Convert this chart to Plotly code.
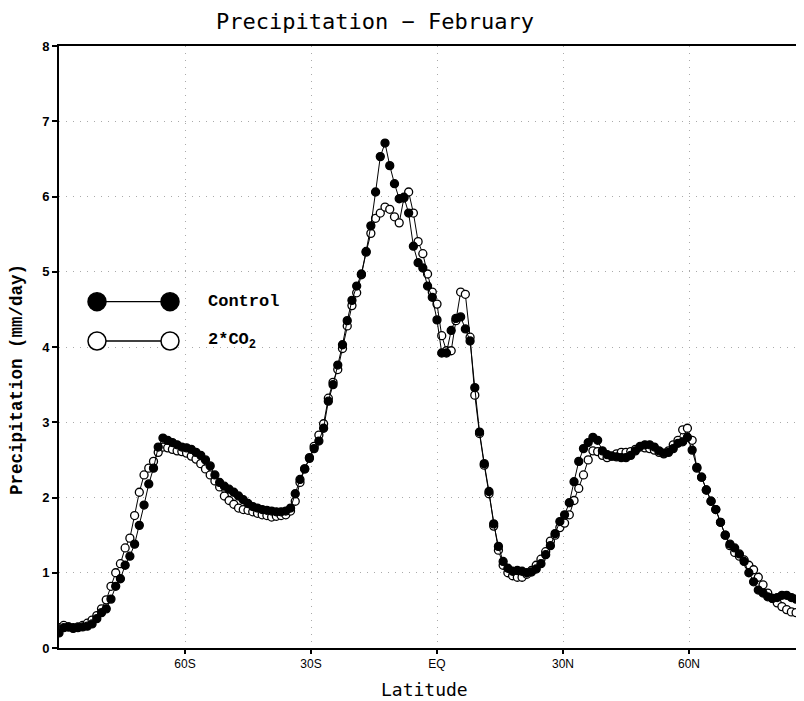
import plotly.graph_objects as go

# Latitude grid: 161 points, 1.125 deg spacing, -90 .. 90
lat_start = -90.0
lat_step = 1.125
n_points = 161
latitudes = [lat_start + lat_step * i for i in range(n_points)]

control = [
    0.20, 0.27, 0.28, 0.26, 0.27, 0.28, 0.29, 0.32, 0.39, 0.47,
    0.52, 0.65, 0.82, 0.92, 1.10, 1.22, 1.38, 1.63, 1.90, 2.18,
    2.39, 2.67, 2.79, 2.76, 2.73, 2.70, 2.67, 2.66, 2.64, 2.60,
    2.56, 2.50, 2.42, 2.30, 2.20, 2.15, 2.11, 2.07, 2.02, 1.97,
    1.92, 1.88, 1.86, 1.84, 1.83, 1.82, 1.81, 1.81, 1.82, 1.86,
    2.05, 2.24, 2.38, 2.52, 2.65, 2.75, 2.92, 3.28, 3.50, 3.76,
    4.03, 4.35, 4.62, 4.81, 4.97, 5.27, 5.61, 6.06, 6.53, 6.71,
    6.41, 6.17, 5.97, 5.99, 5.78, 5.34, 5.12, 5.05, 4.81, 4.66,
    4.36, 3.92, 3.92, 4.22, 4.38, 4.40, 4.24, 4.08, 3.46, 2.87,
    2.45, 2.08, 1.65, 1.35, 1.15, 1.06, 1.02, 1.03, 1.02, 1.00,
    1.01, 1.05, 1.12, 1.24, 1.36, 1.52, 1.68, 1.77, 1.93, 2.21,
    2.48, 2.65, 2.73, 2.80, 2.76, 2.62, 2.57, 2.55, 2.54, 2.53,
    2.53, 2.56, 2.62, 2.68, 2.70, 2.70, 2.67, 2.62, 2.59, 2.60,
    2.65, 2.72, 2.74, 2.80, 2.63, 2.40, 2.27, 2.10, 1.95, 1.84,
    1.67, 1.50, 1.38, 1.33, 1.25, 1.15, 1.00, 0.88, 0.77, 0.73,
    0.68, 0.66, 0.67, 0.70, 0.70, 0.67, 0.65, 0.62, 0.60, 0.58,
    0.57,
]

co2x2 = [
    0.27, 0.30, 0.28, 0.27, 0.28, 0.30, 0.33, 0.37, 0.43, 0.52,
    0.64, 0.82, 1.00, 1.12, 1.33, 1.46, 1.76, 2.07, 2.30, 2.39,
    2.48, 2.60, 2.67, 2.66, 2.64, 2.62, 2.61, 2.59, 2.55, 2.51,
    2.45, 2.38, 2.30, 2.22, 2.14, 2.02, 1.96, 1.91, 1.86, 1.84,
    1.83, 1.81, 1.79, 1.77, 1.76, 1.74, 1.75, 1.76, 1.77, 1.82,
    1.95, 2.20, 2.38, 2.53, 2.68, 2.83, 2.98, 3.32, 3.53, 3.70,
    3.98, 4.28, 4.55, 4.72, 4.96, 5.26, 5.51, 5.71, 5.78, 5.86,
    5.83, 5.73, 5.65, 5.98, 6.06, 5.78, 5.40, 5.24, 4.97, 4.73,
    4.57, 4.15, 3.95, 3.95, 4.35, 4.73, 4.70, 4.13, 3.36, 2.85,
    2.43, 2.05, 1.62, 1.30, 1.10, 1.00, 0.96, 0.94, 0.94, 0.98,
    1.03, 1.10, 1.18, 1.28, 1.42, 1.50, 1.60, 1.66, 1.77, 1.96,
    2.12, 2.30, 2.50, 2.62, 2.61, 2.56, 2.53, 2.55, 2.58, 2.60,
    2.60, 2.61, 2.64, 2.67, 2.66, 2.65, 2.63, 2.60, 2.58, 2.62,
    2.70, 2.76, 2.90, 2.92, 2.76, 2.39, 2.27, 2.10, 1.95, 1.84,
    1.67, 1.50, 1.36, 1.27, 1.22, 1.17, 1.10, 1.04, 0.94, 0.84,
    0.73, 0.66, 0.60, 0.55, 0.51, 0.48, 0.47, 0.47, 0.46, 0.46,
    0.45,
]

x_tick_vals = [-60, -30, 0, 30, 60]
x_tick_text = ["60S", "30S", "EQ", "30N", "60N"]
y_tick_vals = [0, 1, 2, 3, 4, 5, 6, 7, 8]

# page body has an 8px margin; figure is sized to fill the rest of the window
OFF = 8
W, H = 804 - OFF, 701 - OFF
ML, MT = 59 - OFF, 46 - OFF
MB = H - (648 - OFF)
MR = 0
PW, PH = W - ML - MR, H - MT - MB
PX_PER_DEG = 4.2


def px(xr):
    # reference-window pixel x -> paper coordinate
    return (xr - OFF - ML) / PW


def py(yr):
    # reference-window pixel y -> paper coordinate
    return (H - MB - (yr - OFF)) / PH


fig = go.Figure()

fig.add_trace(go.Scatter(
    x=latitudes, y=co2x2, mode="lines+markers", name="2*CO2",
    line=dict(color="black", width=1),
    marker=dict(symbol="circle", size=8, color="white",
                line=dict(color="black", width=1.3)),
    showlegend=False,
))
fig.add_trace(go.Scatter(
    x=latitudes, y=control, mode="lines+markers", name="Control",
    line=dict(color="black", width=1),
    marker=dict(symbol="circle", size=8, color="black",
                line=dict(color="black", width=1.3)),
    showlegend=False,
))

shapes = []
annotations = []

# custom legend
for yy, fill in [(301.7, "black"), (341.0, "white")]:
    shapes.append(dict(type="line", xref="paper", yref="paper",
                       x0=px(97), x1=px(170), y0=py(yy), y1=py(yy),
                       line=dict(color="black", width=1.3)))
    for xx in (97, 170):
        r = 9
        shapes.append(dict(type="circle", xref="paper", yref="paper",
                           x0=px(xx - r), x1=px(xx + r),
                           y0=py(yy + r), y1=py(yy - r),
                           fillcolor=fill, line=dict(color="black", width=1.5)))

annotations.append(dict(xref="paper", yref="paper", x=px(206), y=py(301.7),
                        xanchor="left", yanchor="middle", showarrow=False,
                        text="Control",
                        font=dict(family="Liberation Mono", size=17,
                                  color="black", weight="bold")))
annotations.append(dict(xref="paper", yref="paper", x=px(206), y=py(341),
                        xanchor="left", yanchor="middle", showarrow=False,
                        text="2*CO<sub>2</sub>",
                        font=dict(family="Liberation Mono", size=17,
                                  color="black", weight="bold")))

# axis titles
annotations.append(dict(xref="paper", yref="paper", x=px(17), y=py(380),
                        xanchor="center", yanchor="middle", showarrow=False,
                        textangle=-90, text="Precipitation (mm/day)",
                        font=dict(family="Liberation Mono", size=17.5,
                                  color="black", weight="bold")))
annotations.append(dict(xref="paper", yref="paper", x=px(424), y=py(689),
                        xanchor="center", yanchor="middle", showarrow=False,
                        text="Latitude",
                        font=dict(family="DejaVu Sans Mono", size=18,
                                  color="black")))
annotations.append(dict(xref="paper", yref="paper", x=px(375), y=py(22),
                        xanchor="center", yanchor="middle", showarrow=False,
                        text="Precipitation \u2212 February",
                        font=dict(family="DejaVu Sans Mono", size=22,
                                  color="black")))

fig.update_layout(
    width=W, height=H,
    margin=dict(l=ML, r=MR, t=MT, b=MB, pad=0),
    paper_bgcolor="white", plot_bgcolor="white",
    shapes=shapes, annotations=annotations,
    showlegend=False,
)

fig.update_xaxes(
    range=[-90, PW / PX_PER_DEG - 90],
    tickvals=x_tick_vals, ticktext=x_tick_text,
    ticks="outside", ticklen=4, tickwidth=1.5, tickcolor="black",
    tickfont=dict(family="Liberation Sans", size=12, color="black"),
    showline=True, linecolor="black", linewidth=2, mirror=True,
    showgrid=True, gridcolor="#aaaaaa", gridwidth=1, griddash="1px,6px",
    zeroline=False,
)
fig.update_yaxes(
    range=[0, 8], tickvals=y_tick_vals,
    ticks="outside", ticklen=5, tickwidth=1.5, tickcolor="black",
    tickfont=dict(family="Liberation Sans", size=13, color="black",
                  weight="bold"),
    showline=True, linecolor="black", linewidth=2, mirror=False,
    showgrid=True, gridcolor="#aaaaaa", gridwidth=1, griddash="1px,6px",
    zeroline=False,
)

fig.write_html("out.html")
